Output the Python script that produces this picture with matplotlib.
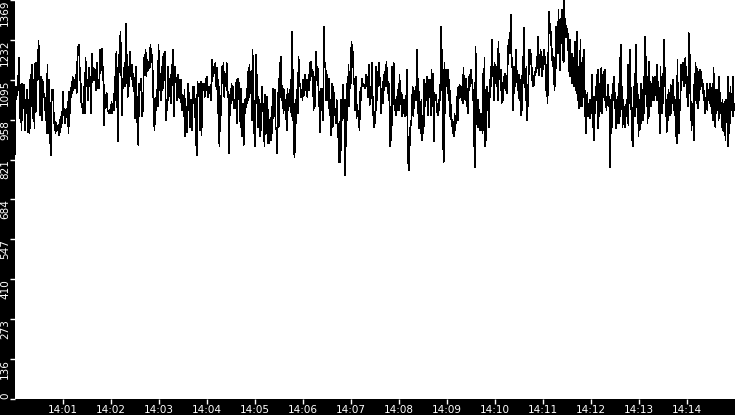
from datetime import datetime, timedelta

import matplotlib
matplotlib.use("Agg")
import matplotlib.dates as mdates
import matplotlib.pyplot as plt
import numpy as np

# in six windows; edges in seconds after 14:00:00
seg_edges_s = [0, 293, 406, 528, 644, 766, 900]

seg1 = [840, 1072, 1060, 1043, 1100, 1172, 963, 1077, 923, 1083, 997, 1077, 923, 1026, 980, 1060, 917, 1026, 912,
        1112, 1003, 1146, 963, 1095, 929, 1152, 986, 1152, 1095, 1228, 1135, 974, 1106, 957, 1095, 1049, 1043, 992,
        1032, 912, 1146, 912, 1095, 934, 837, 1060, 1026, 1060, 946, 952, 912, 946, 929, 934, 906, 957, 917, 969,
        946, 1054, 974, 997, 946, 992, 969, 1020, 912, 1054, 980, 1066, 1049, 1106, 1060, 1095, 1066, 1112, 1049,
        1175, 1209, 1215, 1106, 1083, 1003, 1014, 980, 1072, 980, 1169, 1072, 1095, 1026, 1135, 1072, 1106, 980,
        1186, 1095, 1135, 1095, 1129, 1060, 1152, 1066, 1095, 1066, 1197, 1140, 1203, 1095, 1140, 940, 1043, 1026,
        1049, 992, 986, 980, 992, 980, 1020, 980, 1014, 992, 1106, 1026, 1192, 1026, 883, 1180, 1140, 1260, 1129,
        974, 1100, 1072, 1152, 1072, 1286, 1129, 1037, 1140, 1072, 1192, 1106, 1146, 1072, 1117, 1072, 963, 1140,
        1037, 934, 872, 1083, 1060, 1100, 1049, 969, 1014, 1169, 1140, 1197, 1106, 1163, 1129, 1157, 1135, 1215,
        1163, 1180, 1106, 980, 923, 1032, 992, 1060, 1003, 1215, 1060, 1117, 1026, 1140, 1060, 1186, 1095, 1192,
        957, 1026, 992, 1140, 1049, 1066, 1014, 1146, 1077, 1197, 969, 1140, 1106, 1083, 1026, 1112, 1037, 1095,
        1020, 1095, 992, 1026, 969, 1060, 900, 1003, 917, 1083, 992, 1049, 934, 1026, 923, 1072, 1014, 1072, 992,
        912, 837, 1089, 1043, 1083, 923, 1089, 906, 1083, 1060, 1083, 1037, 1100, 1060, 1106, 1037, 1072, 1049,
        1077, 1026, 1163, 1106, 1140, 1117, 1152, 1072, 1135, 980, 1095, 866, 1020, 974, 1140, 1083, 1152, 1037,
        1106, 1072, 1152, 1037, 1054, 843, 1043, 1014, 1083, 1026, 1072, 997, 1026, 997, 1095, 946, 1100, 1083,
        1054, 934, 1066, 900, 1014, 872, 1026, 980, 1032, 1014, 1123, 1026]

seg2 = [1146, 1072, 1123, 957, 1197, 1026, 923, 866, 1180, 1014, 1112, 934, 1026, 900, 1014, 923, 1072, 992, 980,
        866, 1043, 912, 1037, 877, 992, 877, 934, 889, 1003, 912, 1066, 992, 1060, 934, 923, 843, 1049, 934, 1152,
        1037, 1175, 1026, 1066, 980, 1060, 992, 1014, 923, 1066, 992, 1026, 1003, 1095, 969, 1260, 1026, 854, 831,
        1026, 946, 1060, 980, 1175, 1083, 1083, 1037, 1060, 1026, 1095, 1043, 1112, 1060, 1095, 1037, 1095, 1060,
        1152, 1095, 1157, 1106, 1123, 992, 1106, 1003, 1192, 1095, 1140, 1072, 1026, 917, 1066, 992, 1066, 957,
        1277, 1140, 1146, 1026, 1112, 1026, 1100, 974, 1026, 906, 1083, 934, 1072, 992, 992, 946, 1026, 957, 912,
        814]

seg3 = [952, 814, 1026, 957, 1077, 1026, 1026, 769, 1026, 866, 1083, 1003, 1146, 1003, 1117, 1083, 1226, 1186,
        1192, 1100, 1077, 992, 1106, 963, 1009, 969, 969, 923, 1054, 1026, 1100, 1072, 1083, 1072, 1077, 1066, 1112,
        1072, 1106, 1037, 1146, 1009, 1060, 1037, 1152, 974, 1037, 934, 963, 946, 1140, 1026, 1123, 1072, 1152,
        1083, 1072, 980, 1066, 1014, 1112, 1060, 1123, 1072, 1157, 1095, 1089, 1026, 1083, 866, 1003, 889, 1140,
        1026, 1152, 992, 1026, 974, 1037, 992, 1060, 992, 1112, 1014, 1049, 969, 1043, 980, 1026, 969, 1003, 992,
        1129, 917, 809, 786, 877, 940, 940, 1003, 1072, 969, 1037, 1026, 1072, 1026, 1197, 980, 1100, 929, 980, 912,
        1026, 889, 934, 912, 1095, 1003, 1083, 1026, 1106, 974, 1095, 1037, 1095, 974, 1129, 1003, 1117, 883, 1049,
        1026, 1043, 1014]

seg4 = [980, 974, 1026, 992, 1077, 1026, 1277, 1163, 1175, 877, 814, 1152, 980, 1129, 1072, 1112, 1049, 1129, 1026,
        1095, 969, 1009, 957, 957, 912, 946, 900, 980, 923, 957, 946, 1037, 957, 1072, 1032, 1077, 1037, 1072, 1026,
        1049, 1014, 1135, 1049, 1066, 1026, 1100, 1003, 1026, 980, 1106, 1060, 1112, 1072, 1129, 1083, 1095, 1026,
        1026, 877, 797, 1209, 1083, 980, 934, 1026, 934, 992, 923, 980, 957, 946, 912, 1117, 923, 1169, 866, 889,
        934, 1072, 992, 1026, 934, 1095, 1037, 1140, 1072, 1232, 1106, 1140, 1026, 1152, 1083, 1140, 1106, 1095,
        1026, 1226, 1117, 1123, 1095, 1129, 1014, 1066, 1026, 1106, 1072, 1117, 1060, 1095, 1049, 1106, 1186, 1232,
        1186, 1255, 1186, 1317, 1140, 1140, 992, 1140, 1049, 1135, 1072, 1197, 1095, 1095, 1060, 1112, 1026, 1095,
        974, 1049, 992, 1175, 1083, 1272, 1095, 1095, 1026, 1140, 957, 1077, 1003, 1197, 1140]

seg5 = [1197, 1157, 1186, 1095, 1123, 1072, 1095, 1077, 1123, 1112, 1135, 1123, 1175, 1140, 1243, 1112, 1180, 1140,
        1197, 1152, 1175, 1106, 1152, 1140, 1197, 1152, 1175, 1060, 1146, 1095, 1014, 1129, 1260, 1329, 1255, 1289,
        1220, 1209, 1163, 1175, 1140, 1169, 1060, 1095, 1123, 1277, 1197, 1243, 1186, 1335, 1220, 1283, 1129, 1306,
        1220, 1335, 1163, 1232, 1157, 1369, 1266, 1306, 1243, 1277, 1243, 1255, 1197, 1192, 1106, 1232, 1106, 1140,
        1083, 1186, 1152, 1169, 1072, 1226, 1106, 1163, 1049, 1260, 1026, 1140, 997, 1037, 1014, 1232, 1003, 1152,
        1003, 1169, 1037, 1197, 1072, 1026, 912, 934, 980, 1049, 980, 992, 969, 1026, 963, 1014, 980, 1112, 934, 980,
        889, 1037, 980, 1037, 1026, 1112, 1037, 1129, 929, 1083, 969, 1037, 1026, 1135, 980, 1112, 1072, 1123, 1037,
        1129, 1026, 1037, 992, 1032, 1014, 1077, 1003, 1037, 797, 1026, 912, 1043, 934, 1083, 1026, 1106, 1026,
        1049, 929, 1026, 946, 1026, 957, 1083, 946, 1169, 969, 1215, 1072, 1072, 934, 1026, 946, 1003, 934, 1009,
        969, 1026, 980]

seg6 = [1146, 940, 1140, 1014, 1197, 1072, 1037, 889, 934, 866, 1026, 1003, 1117, 969, 1215, 1072, 1083, 992, 1043,
        900, 1026, 923, 1014, 946, 1083, 1026, 1060, 957, 1106, 980, 1243, 1095, 1175, 1026, 1106, 946, 1026, 969,
        1157, 1014, 1089, 1003, 1083, 1026, 1106, 1049, 1083, 1026, 1106, 1060, 1066, 1026, 1146, 1026, 1089, 992,
        980, 912, 1140, 1003, 1072, 980, 1117, 1014, 1232, 1140, 1129, 1026, 992, 917, 1026, 957, 1060, 1003, 1049,
        974, 1077, 980, 1049, 1014, 1095, 992, 1037, 974, 1026, 900, 992, 877, 1163, 957, 1020, 912, 1026, 992,
        1146, 1060, 1129, 1095, 1152, 1072, 1123, 1083, 1169, 1106, 1140, 1037, 1077, 1003, 1255, 1175, 1180, 1026,
        1014, 923, 1014, 980, 992, 889, 1089, 1026, 1152, 1106, 1140, 1014, 1060, 997, 1123, 1026, 1129, 1095, 1123,
        1072, 1095, 1049, 1083, 1026, 1049, 980, 1026, 1003, 1083, 992, 1060, 1026, 1049, 1014, 1083, 1003, 1060,
        980, 1083, 957, 1135, 1026, 1060, 934, 1060, 980, 1060, 992, 1026, 957, 1106, 980, 1049, 992, 992, 934,
        1026, 923, 1014, 917, 1020, 889, 1026, 980, 1014, 866, 1106, 912, 1049, 946, 1072, 992, 1043, 1014, 1106,
        969, 1014, 992]

segments = [seg1, seg2, seg3, seg4, seg5, seg6]

y_max = 1369
x_tick_labels = ["14:01", "14:02", "14:03", "14:04", "14:05", "14:06", "14:07",
                 "14:08", "14:09", "14:10", "14:11", "14:12", "14:13", "14:14"]

start = datetime(2024, 1, 1, 14, 0, 0)
times = []
values = []
for i, seg in enumerate(segments):
    secs = np.linspace(seg_edges_s[i], seg_edges_s[i + 1], len(seg), endpoint=False)
    times += [start + timedelta(seconds=float(s)) for s in secs]
    values += seg

fig = plt.figure(figsize=(7.35, 4.15), dpi=100, facecolor="black")
ax = fig.add_axes([15 / 735, 16 / 415, 720 / 735, 399 / 415])
ax.set_facecolor("white")
ax.plot(times, values, color="black", linewidth=0.5, antialiased=False)

ax.set_xlim(start, start + timedelta(minutes=15))
ax.set_ylim(0, y_max)
for s in ax.spines.values():
    s.set_visible(False)

ax.xaxis.set_major_formatter(mdates.DateFormatter("%H:%M"))
ax.set_xticks([start + timedelta(minutes=m + 1) for m in range(len(x_tick_labels))])
ax.set_xticklabels(x_tick_labels)

y_ticks = np.linspace(0, y_max, 11)
ax.set_yticks(y_ticks)
ax.set_yticklabels([str(int(v)) for v in y_ticks], rotation=90, va="top")
ax.get_yticklabels()[0].set_va("bottom")

ax.tick_params(axis="both", colors="white", labelcolor="white", width=1, direction="out")
ax.tick_params(axis="y", length=3.5, pad=0, labelsize=7.5)
ax.tick_params(axis="x", length=3.5, pad=1, labelsize=7.5)

fig.savefig("out.png", dpi=100, facecolor="black")
